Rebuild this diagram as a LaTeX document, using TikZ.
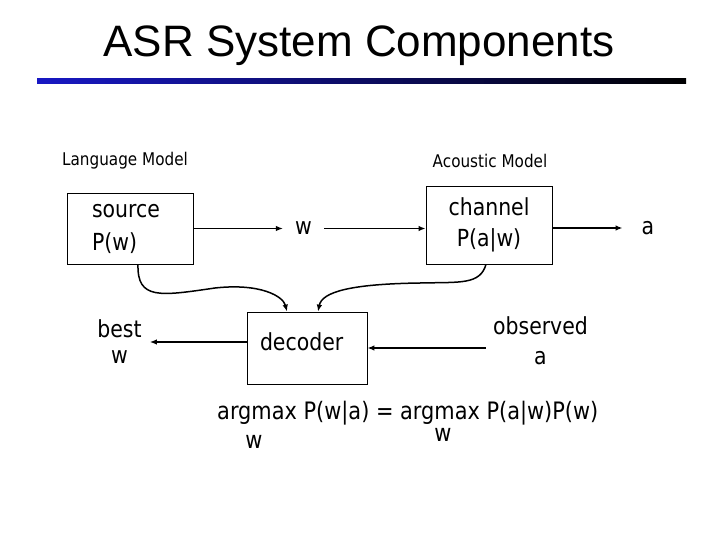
\documentclass[tikz,border=0pt]{standalone}
\usepackage{fontspec}
\setmainfont{DejaVu Sans}[FakeStretch=0.87]
\newfontfamily\titlefont{Liberation Sans}
\usetikzlibrary{positioning, arrows.meta}
\definecolor{barblue}{RGB}{24,24,196}

\begin{document}
\begin{tikzpicture}[x=1pt, y=-1pt,
	box/.style={draw, line width=0.8pt, font=\fontsize{23.5}{30}\selectfont},
	lbl/.style={font=\fontsize{23.5}{30}\selectfont, align=center},
	small/.style={font=\fontsize{17.5}{20}\selectfont},
	eq/.style={font=\fontsize{24}{26}\selectfont, inner sep=1pt},
	arr/.style={-{Latex[length=7pt,width=5.5pt]}, line width=1.5pt}]
	\fill [white] (0,0) rectangle (720,540);
	\node (title) at (359,46) {\titlefont\fontsize{44}{50}\selectfont ASR System Components};
	\shade [left color=barblue, right color=black] (37,79) rectangle (686,84);
	% the two models
	\node (lm) [small] at (125,161) {Language Model};
	\node (am) [small] at (490,161) {Acoustic Model};
	\node (source) [box, minimum width=126pt, minimum height=71pt, inner xsep=25pt, text width=76pt, align=left] at (130,228.5) {source\\[3pt]P(w)};
	\node (w) [lbl, inner xsep=12pt] at (303.5,228.5) {w};
	\node (channel) [box, minimum width=126pt, minimum height=78pt, align=center] at (489,225) {channel\\[1pt]P(a|w)};
	\node (a) [lbl, inner xsep=19pt] at (648,228) {a};
	% decoding
	\node (decoder) [box, minimum width=120pt, minimum height=72pt, inner xsep=13pt, text width=94pt, align=left, text depth=12pt] at (307,348) {decoder};
	\node (best) [lbl, inner xsep=8pt] at (119.5,342) {best\\[-4pt]w};
	\node (observed) [lbl, inner xsep=7pt] at (540.5,341) {observed\\a};
	\node (formula) [eq, anchor=west, inner xsep=0pt] at (217,413) {argmax P(w|a) = argmax P(a|w)P(w)};
	\node (argw) [eq] at (254,442) {w};
	\node (argwb) [eq] at (443,435) {w};
	\draw [arr] (source.east) -- (w.west);
	\draw [arr] (w.east) -- (w.east -| channel.west);
	\draw [arr] (channel.east |- a.west) -- (a.west);
	\draw [arr] (decoder.west |- best.east) -- (best.east);
	\draw [arr] (observed.west |- decoder.east) -- (decoder.east);
	\draw [arr] ([xshift=8pt]source.south) .. controls (137,300) and (160,296) .. (215,288) .. controls (260,283) and (283,296) .. ([xshift=-20pt]decoder.north);
	\draw [arr] ([xshift=-3pt]channel.south) .. controls (480,285) and (460,282) .. (420,283) .. controls (350,284) and (322,292) .. ([xshift=11pt]decoder.north);
\end{tikzpicture}
\end{document}
